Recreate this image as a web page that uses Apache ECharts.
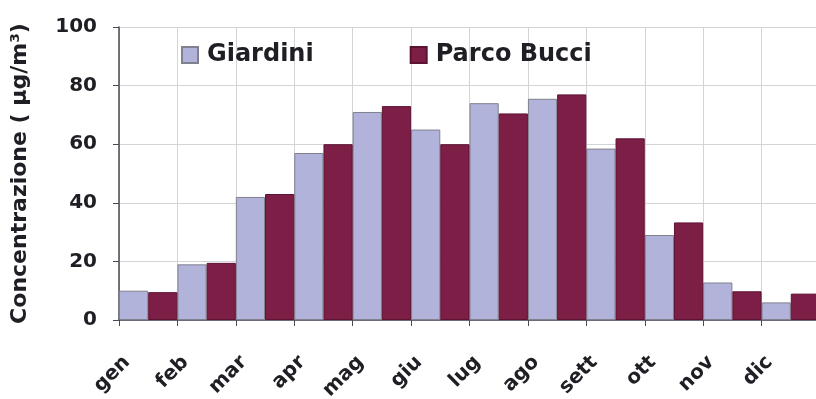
<!DOCTYPE html>
<html>
<head>
<meta charset="utf-8">
<script src="https://cdn.jsdelivr.net/npm/echarts@6/dist/echarts.min.js"></script>
<style>
  html, body { margin: 0; padding: 0; background: #ffffff; }
  #chart { width: 816px; height: 399px; }
</style>
</head>
<body>
<div id="chart"></div>
<script>
// Monthly mean concentrations at the two monitoring sites
const months = ['gen', 'feb', 'mar', 'apr', 'mag', 'giu', 'lug', 'ago', 'sett', 'ott', 'nov', 'dic'];
const giardini = [10, 19, 42, 57, 71, 65, 74, 75.5, 58.5, 29, 12.8, 6];
const parcoBucci = [9.5, 19.5, 43, 60, 73, 60, 70.5, 77, 62, 33.3, 9.8, 9];
const yTicks = { min: 0, max: 100, interval: 20 };

const FONT = 'DejaVu Sans';
const chart = echarts.init(document.getElementById('chart'), null, { renderer: 'canvas' });

chart.setOption({
  animation: false,
  backgroundColor: '#ffffff',
  textStyle: { fontFamily: FONT },
  grid: { left: 119, top: 27, width: 701, height: 293, containLabel: false, outerBoundsMode: 'none' },
  legend: {
    left: 181,
    top: 43,
    padding: 0,
    itemWidth: 16,
    itemHeight: 16,
    itemGap: 96,
    icon: 'rect',
    textStyle: { fontFamily: FONT, fontWeight: 'bold', fontSize: 24, color: '#1e1e24', padding: [0, 0, 0, 4] },
    data: ['Giardini', 'Parco Bucci']
  },
  xAxis: {
    type: 'category',
    data: months,
    boundaryGap: true,
    axisLine: { lineStyle: { color: '#4a4a55', width: 1.5 } },
    axisTick: { show: true, length: 6, alignWithLabel: false, lineStyle: { color: '#4a4a55' } },
    splitLine: { show: true, lineStyle: { color: '#d4d4d8', width: 1 } },
    axisLabel: {
      rotate: 45,
      margin: 18,
      interval: 0,
      fontFamily: FONT,
      fontWeight: 'bold',
      fontSize: 20,
      color: '#1e1e24',
      padding: [0, 30, 0, 0]
    }
  },
  yAxis: {
    type: 'value',
    min: yTicks.min,
    max: yTicks.max,
    interval: yTicks.interval,
    name: 'Concentrazione ( µg/m³)',
    nameLocation: 'middle',
    nameGap: 88,
    nameRotate: 90,
    nameTextStyle: { fontFamily: FONT, fontWeight: 'bold', fontSize: 22, color: '#1e1e24' },
    axisLine: { show: true, lineStyle: { color: '#4a4a55', width: 1.5 } },
    axisTick: { show: true, length: 6, lineStyle: { color: '#4a4a55' } },
    splitLine: { show: true, lineStyle: { color: '#d4d4d8', width: 1 } },
    axisLabel: { margin: 22, fontFamily: FONT, fontWeight: 'bold', fontSize: 20, color: '#1e1e24' }
  },
  series: [
    {
      name: 'Giardini',
      type: 'bar',
      data: giardini,
      barGap: '0%',
      barCategoryGap: '0%',
      itemStyle: { color: '#b2b3da', borderColor: '#80808e', borderWidth: 1 }
    },
    {
      name: 'Parco Bucci',
      type: 'bar',
      data: parcoBucci,
      barGap: '0%',
      barCategoryGap: '0%',
      itemStyle: { color: '#7d1e47', borderColor: '#5e1232', borderWidth: 1 }
    }
  ]
});
</script>
</body>
</html>
